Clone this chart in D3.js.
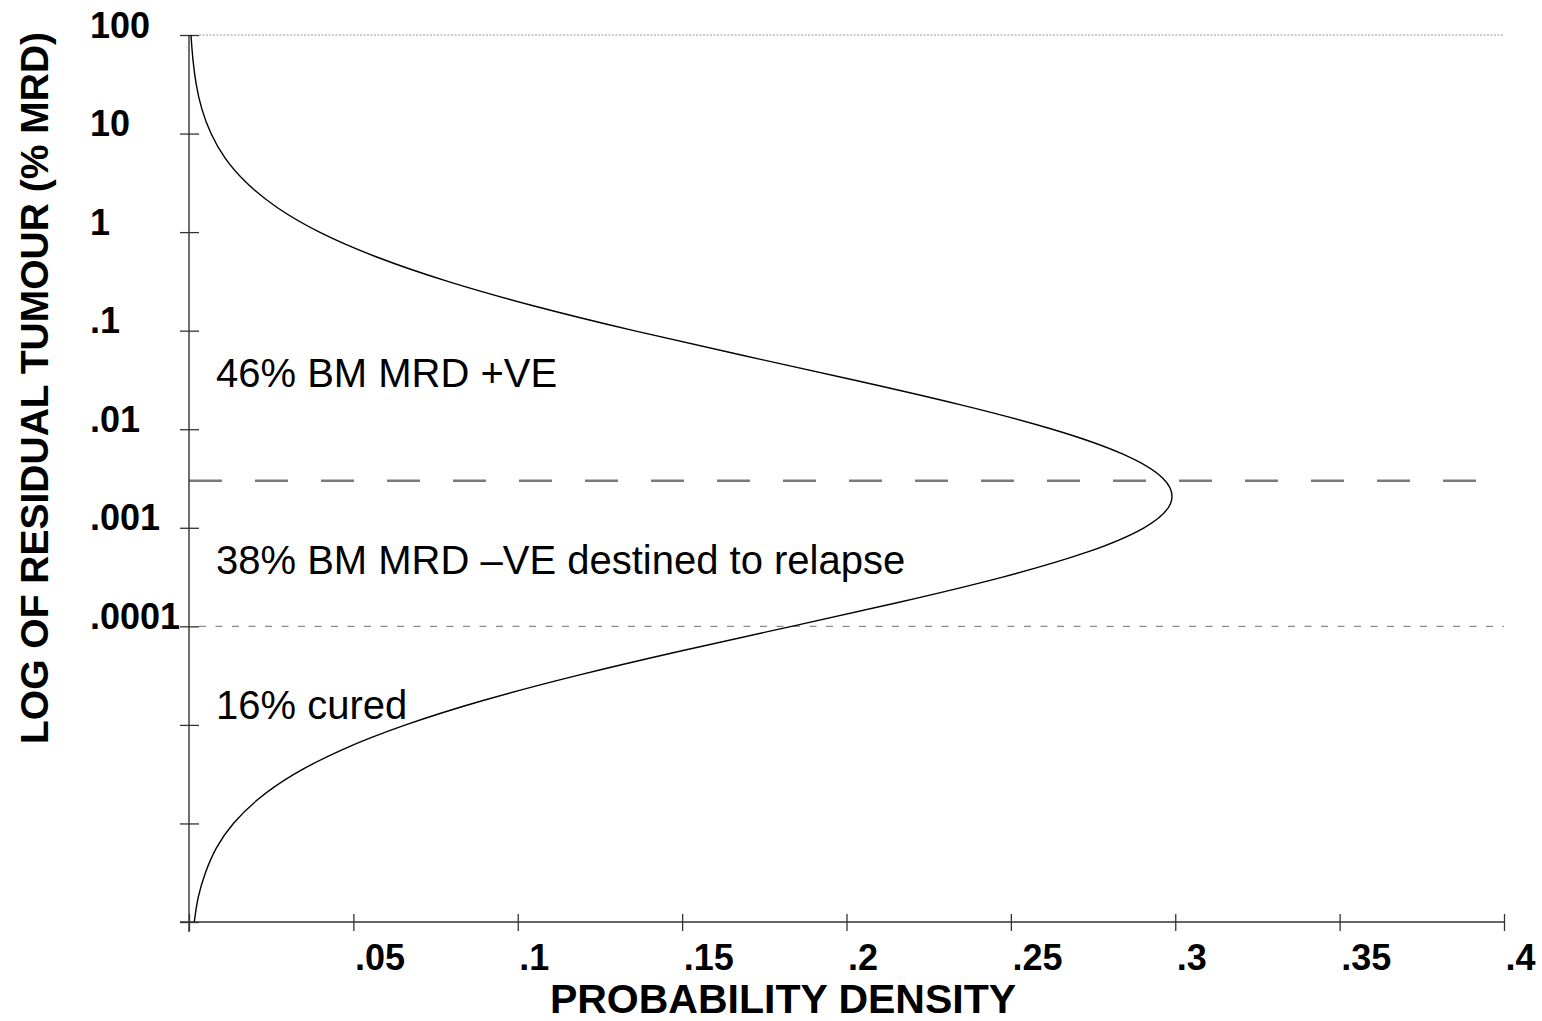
<!DOCTYPE html>
<html lang="en">
<head>
  <meta charset="UTF-8">
  <title>Residual tumour density</title>
  <script src="https://d3js.org/d3.v7.min.js"></script>
  <style>
    body { margin: 0; padding: 0; background: #fff; }
    svg { display: block; }
    text { font-family: "Liberation Sans", Arial, sans-serif; fill: #000; }
    .tick-label { font-size: 36px; font-weight: bold; }
    .axis-title { font-weight: bold; }
    .note { font-size: 40px; }
    .axis path { display: none; }
    .axis line { stroke: #333; stroke-width: 1.3px; }
    .curve { fill: none; stroke: #000; stroke-width: 1.4px; }
  </style>
</head>
<body>
  <svg width="1542" height="1021"></svg>
  <script>
    // === Dados ===
    // log10 do MRD (%) ao longo da curva, e densidade correspondente
    const curveLogMRD = [2, 1.75, 1.5, 1.25, 1, 0.75, 0.5, 0.25, 0, -0.25, -0.5, -0.75, -1, -1.25, -1.5,
      -1.75, -2, -2.25, -2.5, -2.75, -3, -3.25, -3.5, -3.75, -4, -4.25, -4.5, -4.75, -5,
      -5.25, -5.5, -5.75, -6, -6.25, -6.5, -6.75, -7];
    const curveDensity = [0.0006, 0.0012, 0.0022, 0.0039, 0.0067, 0.011, 0.0175, 0.0268, 0.0397, 0.0569, 0.0787,
      0.105, 0.1353, 0.1683, 0.2022, 0.2345, 0.2626, 0.2839, 0.2963, 0.2986, 0.2905, 0.2729, 0.2475,
      0.2167, 0.1833, 0.1496, 0.1179, 0.0897, 0.0659, 0.0467, 0.032, 0.0212, 0.0135, 0.0083, 0.005, 0.0028, 0.0016];

    const yTickValues = [100, 10, 1, 0.1, 0.01, 0.001, 0.0001, 1e-5, 1e-6, 1e-7];
    const yTickLabels = ["100", "10", "1", ".1", ".01", ".001", ".0001", "", "", ""];
    const xTickValues = [0, 0.05, 0.1, 0.15, 0.2, 0.25, 0.3, 0.35, 0.4];
    const xTickLabels = ["", ".05", ".1", ".15", ".2", ".25", ".3", ".35", ".4"];

    const cutoffMRD = 0.003;   // linha tracejada
    const detectMRD = 0.0001;  // limite de detecção (pontilhada)
    const topMRD = 100;

    const notes = [
      { text: "46% BM MRD +VE", mrd: 0.027 },
      { text: "38% BM MRD \u2013VE destined to relapse", mrd: 0.00034 },
      { text: "16% cured", mrd: 0.0000116 }
    ];

    // === Escalas ===
    const svg = d3.select("svg");
    const x = d3.scaleLinear().domain([0, 0.4]).range([189, 1504]);
    const y = d3.scaleLog().domain([1e-7, 100]).range([922, 35]);

    // linhas de referência
    svg.append("line")
      .attr("x1", 199).attr("x2", x(0.4))
      .attr("y1", y(topMRD)).attr("y2", y(topMRD))
      .attr("stroke", "#9a9a9a").attr("stroke-width", 1.2).attr("stroke-dasharray", "2,1.5");
    svg.append("line")
      .attr("x1", 199).attr("x2", x(0.4))
      .attr("y1", y(detectMRD)).attr("y2", y(detectMRD))
      .attr("stroke", "#8a8a8a").attr("stroke-width", 1.2).attr("stroke-dasharray", "7,9.5");
    svg.append("line")
      .attr("x1", x(0)).attr("x2", 1476)
      .attr("y1", y(cutoffMRD)).attr("y2", y(cutoffMRD))
      .attr("stroke", "#7a7a7a").attr("stroke-width", 2.4).attr("stroke-dasharray", "33,33");

    // === Eixo Y ===
    const yAxis = svg.append("g")
      .attr("class", "axis")
      .attr("transform", `translate(${x(0)},0)`)
      .call(d3.axisLeft(y).tickValues(yTickValues).tickFormat((d, i) => yTickLabels[i]).tickSize(9));
    yAxis.selectAll(".tick line").attr("x1", 10);
    yAxis.selectAll(".tick text")
      .attr("class", "tick-label")
      .attr("text-anchor", "start")
      .attr("x", 90 - x(0))
      .attr("dy", 2)
      .attr("font-size", null).attr("font-family", null);
    svg.append("line")
      .attr("x1", x(0)).attr("x2", x(0))
      .attr("y1", y(100)).attr("y2", 932)
      .attr("stroke", "#333").attr("stroke-width", 1.4);

    // === Eixo X ===
    const xAxis = svg.append("g")
      .attr("class", "axis")
      .attr("transform", `translate(0,${y(1e-7)})`)
      .call(d3.axisBottom(x).tickValues(xTickValues).tickFormat((d, i) => xTickLabels[i]).tickSize(9));
    xAxis.selectAll(".tick line").attr("y1", -8);
    xAxis.selectAll(".tick text")
      .attr("class", "tick-label")
      .attr("text-anchor", "start")
      .attr("x", 1)
      .attr("y", 48).attr("dy", 0)
      .attr("font-size", null).attr("font-family", null);
    svg.append("line")
      .attr("x1", 180).attr("x2", x(0.4))
      .attr("y1", y(1e-7)).attr("y2", y(1e-7))
      .attr("stroke", "#333").attr("stroke-width", 1.4);

    // === Curva de densidade ===
    const pts = curveLogMRD.map((l, i) => [curveDensity[i], Math.pow(10, l)]);
    svg.append("path")
      .datum(pts)
      .attr("class", "curve")
      .attr("d", d3.line()
        .x(d => x(d[0]))
        .y(d => y(d[1]))
        .curve(d3.curveNatural));

    // === Textos ===
    svg.selectAll(".note")
      .data(notes)
      .enter()
      .append("text")
      .attr("class", "note")
      .attr("x", 216)
      .attr("y", d => y(d.mrd))
      .text(d => d.text);

    svg.append("text")
      .attr("class", "axis-title")
      .attr("font-size", 41)
      .attr("text-anchor", "middle")
      .attr("x", 783)
      .attr("y", 1013)
      .text("PROBABILITY DENSITY");

    svg.append("text")
      .attr("class", "axis-title")
      .attr("font-size", 39)
      .attr("text-anchor", "middle")
      .attr("transform", "translate(48,388) rotate(-90)")
      .text("LOG OF RESIDUAL TUMOUR (% MRD)");
  </script>
</body>
</html>
